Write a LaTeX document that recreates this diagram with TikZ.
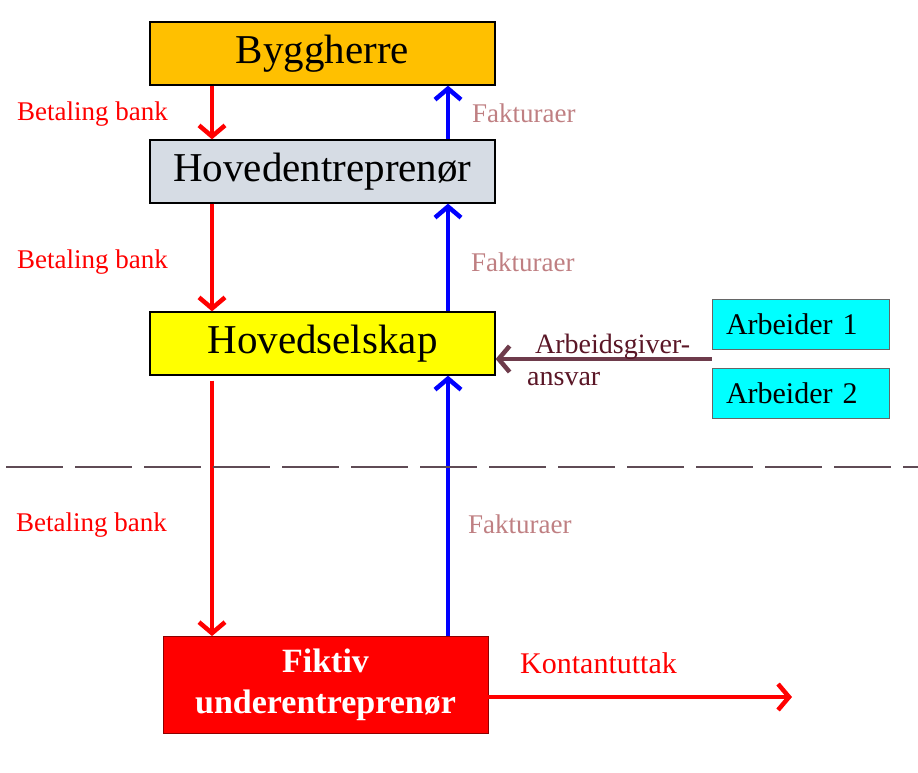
\documentclass[tikz,border=0pt]{standalone}
\usepackage{fontspec}
\setmainfont{Liberation Serif}
\usepackage{xcolor}
\usetikzlibrary{arrows.meta,calc}
\definecolor{byggfarge}{HTML}{FFC000}
\definecolor{hovedfarge}{HTML}{D6DCE4}
\definecolor{arbfarge}{HTML}{00FFFF}
\definecolor{gulfarge}{HTML}{FFFF00}
\definecolor{rodfarge}{HTML}{FF0000}
\definecolor{blafarge}{HTML}{0000FF}
\definecolor{fakturafarge}{HTML}{BF7F82}
\definecolor{ansvarfarge}{HTML}{6E3B4B}
\definecolor{ansvartekst}{HTML}{5A1626}
\definecolor{skillefarge}{HTML}{5F4B55}

\begin{document}
\begin{tikzpicture}[x=1pt,y=-1pt,
  boks/.style={draw=black,line width=1.3pt,minimum width=345pt,minimum height=63pt,inner sep=0pt,font=\fontsize{41}{41}\selectfont},
  arbboks/.style={draw=black!60,line width=0.8pt,fill=arbfarge,text width=149pt,inner xsep=14pt,inner ysep=0pt,minimum height=50pt,align=left,font=\fontsize{30}{30}\selectfont},
  betaling/.style={draw=rodfarge,line width=4.5pt,-{Straight Barb[length=11pt,width=26pt]}},
  faktura/.style={draw=blafarge,line width=4.5pt,-{Straight Barb[length=11pt,width=26pt]}},
  tekst/.style={font=\fontsize{27}{27}\selectfont,inner sep=0pt,anchor=base west}]
\useasboundingbox (0,0) rectangle (918,772);
% boksene
\node[boks,fill=byggfarge] (bygg) at (322.5,53.5) {Byggherre};
\node[boks,fill=hovedfarge] (hoved) at (322.5,171.5) {Hovedentrepren\o r};
\node[boks,fill=gulfarge] (selskap) at (322.5,343.5) {Hovedselskap};
\node[arbboks] (arb1) at (800.5,324.5) {Arbeider 1};
\node[arbboks] (arb2) at (800.5,393.5) {Arbeider 2};
\node[draw=rodfarge!55!black,line width=0.8pt,fill=rodfarge,text=white,minimum width=325pt,minimum height=97pt,align=center,font=\bfseries\fontsize{34}{41}\selectfont] (fiktiv) at (325.5,685) {Fiktiv\\underentrepren\o r};
\coordinate (rod) at (212,0);
\coordinate (bla) at (448,0);
% betaling ned, fakturaer opp
\draw[betaling] (bygg.south -| rod) -- (hoved.north -| rod);
\draw[betaling] (hoved.south -| rod) -- (selskap.north -| rod);
\draw[betaling,shorten <=5pt] (selskap.south -| rod) -- (fiktiv.north -| rod);
\draw[faktura] (hoved.north -| bla) -- (bygg.south -| bla);
\draw[faktura] (selskap.north -| bla) -- (hoved.south -| bla);
\draw[faktura] (fiktiv.north -| bla) -- (selskap.south -| bla);
\node[tekst,text=rodfarge] (bet1) at (17,120.5) {Betaling bank};
\node[tekst,text=rodfarge] (bet2) at (17,268) {Betaling bank};
\node[tekst,text=rodfarge] (bet3) at (16,531) {Betaling bank};
\node[tekst,text=fakturafarge] (fak1) at (472,122.5) {Fakturaer};
\node[tekst,text=fakturafarge] (fak2) at (471,271.5) {Fakturaer};
\node[tekst,text=fakturafarge] (fak3) at (468,533) {Fakturaer};
% arbeidsgiveransvar
\coordinate (arbpunkt) at ($(arb1.south west)!0.5!(arb2.north west)$);
\draw[draw=ansvarfarge,line width=4.5pt,-{Straight Barb[length=11pt,width=26pt]}] (arbpunkt) -- (arbpunkt -| selskap.east);
\node[tekst,text=ansvartekst,font=\fontsize{28}{28}\selectfont] (ansvar1) at (535,353) {Arbeidsgiver-};
\node[tekst,text=ansvartekst,font=\fontsize{28}{28}\selectfont] (ansvar2) at (527,385) {ansvar};
% skillelinje
\coordinate (skille v) at (6,467);
\coordinate (skille h) at (918,467);
\draw[skillefarge,line width=1.8pt,dash pattern=on 57pt off 12pt] (skille v) -- (skille h);
% kontantuttak
\coordinate (uttak) at (792,697);
\draw[betaling] (fiktiv.east |- uttak) -- (uttak);
\node[tekst,text=rodfarge,font=\fontsize{30}{30}\selectfont] (kontant) at (520,673) {Kontantuttak};
\end{tikzpicture}
\end{document}
